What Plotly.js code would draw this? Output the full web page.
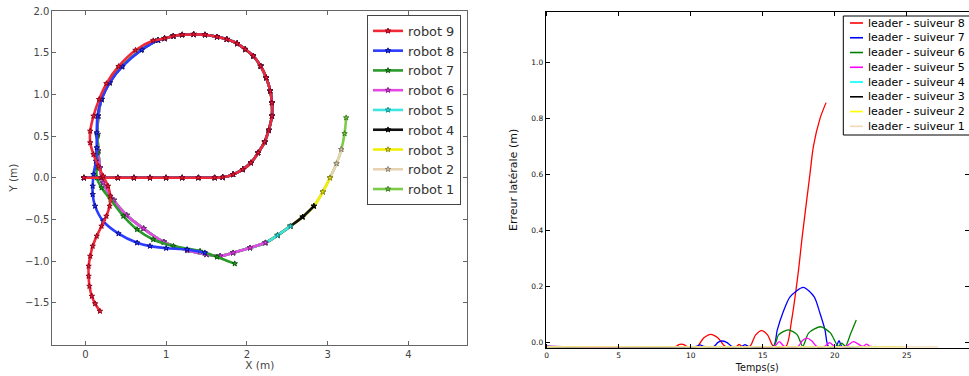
<!DOCTYPE html>
<html>
<head>
<meta charset="utf-8">
<script src="https://cdn.plot.ly/plotly-3.0.1.min.js"></script>
<style>html,body{margin:0;padding:0;background:#fff;overflow:hidden}</style>
</head>
<body>
<div id="chart" style="width:969px;height:376px"></div>
<script>
// ================= LEFT CHART : robot trajectories =================
const robotNames = ['robot 1','robot 2','robot 3','robot 4','robot 5','robot 6','robot 7','robot 8','robot 9'];

// common part: straight line along y=0 then the loop (all robots)
const loopX = [-0.02, 0.2, 0.4, 0.6, 0.8, 1.0, 1.2, 1.4, 1.6, 1.7, 1.83, 1.95, 2.05, 2.14, 2.22, 2.27, 2.31, 2.31, 2.29, 2.24, 2.17, 2.08, 1.98, 1.88, 1.75, 1.63, 1.48, 1.34, 1.2, 1.09, 0.98];
const loopY = [0, 0, 0, 0, 0, 0, 0, 0, 0, 0.005, 0.04, 0.1, 0.18, 0.3, 0.43, 0.57, 0.74, 0.9, 1.04, 1.2, 1.34, 1.46, 1.54, 1.61, 1.66, 1.69, 1.715, 1.72, 1.715, 1.70, 1.67];

// robot 9 (diverging follower)
const tail9X = [0.84, 0.62, 0.41, 0.26, 0.17, 0.10, 0.06, 0.06, 0.10, 0.16, 0.22, 0.28, 0.31, 0.30, 0.26, 0.20, 0.14, 0.09, 0.06, 0.04, 0.04, 0.05, 0.08, 0.12, 0.18];
const tail9Y = [1.645, 1.53, 1.335, 1.13, 0.94, 0.74, 0.56, 0.42, 0.28, 0.14, 0.02, -0.10, -0.22, -0.34, -0.46, -0.58, -0.70, -0.82, -0.94, -1.06, -1.18, -1.30, -1.42, -1.51, -1.60];

// robot 8
const tail8X = [0.90, 0.70, 0.46, 0.30, 0.20, 0.15, 0.14, 0.14, 0.13, 0.10, 0.09, 0.09, 0.12, 0.22, 0.41, 0.64, 0.80, 1.00, 1.26, 1.48];
const tail8Y = [1.65, 1.535, 1.335, 1.14, 0.94, 0.74, 0.54, 0.36, 0.20, 0.04, -0.10, -0.20, -0.34, -0.52, -0.67, -0.78, -0.82, -0.845, -0.86, -0.90];

// robot 7
const tail7X = [0.90, 0.69, 0.45, 0.29, 0.20, 0.15, 0.15, 0.15, 0.14, 0.14, 0.20, 0.31, 0.47, 0.64, 0.84, 1.09, 1.42, 1.63, 1.85];
const tail7Y = [1.65, 1.533, 1.335, 1.14, 0.94, 0.74, 0.50, 0.30, 0.12, 0.0, -0.12, -0.26, -0.46, -0.62, -0.74, -0.82, -0.88, -0.95, -1.03];

// leader path after the loop, followed by robots 1..6
const pathX = [0.90, 0.69, 0.45, 0.30, 0.20, 0.16, 0.15, 0.16, 0.18, 0.22, 0.35, 0.51, 0.72, 0.97, 1.26, 1.50, 1.67, 1.83, 2.04, 2.23, 2.38, 2.54, 2.69, 2.83, 2.94, 3.03, 3.11, 3.17, 3.21, 3.23];
const pathY = [1.65, 1.535, 1.335, 1.14, 0.94, 0.74, 0.52, 0.32, 0.12, -0.06, -0.27, -0.45, -0.61, -0.77, -0.87, -0.92, -0.94, -0.90, -0.84, -0.78, -0.69, -0.58, -0.47, -0.34, -0.17, 0.0, 0.17, 0.34, 0.53, 0.72];
// index in path where robots 1..6 stop
const pathEndIdx = [29, 27, 25, 23, 21, 19];

const robotLineColors   = ['#7ccc4a', '#e8d2b4', '#f2f000', '#111111', '#3fe6e0', '#e24ae2', '#2a9a2a', '#2a3cff', '#f02838'];
const robotMarkerColors = ['#3d7d22', '#8c8070', '#8a8a10', '#000000', '#129090', '#8a1a8a', '#0a5a0a', '#0a0a90', '#900018'];

// ================= RIGHT CHART : lateral error =================
const seriesNames = ['leader - suiveur 8','leader - suiveur 7','leader - suiveur 6','leader - suiveur 5',
                     'leader - suiveur 4','leader - suiveur 3','leader - suiveur 2','leader - suiveur 1'];
const seriesColors = ['#ff0000','#0000ff','#008000','#ff00ff','#00ffff','#000000','#ffff00','#f2d9b5'];

const s8T = [0, 9.0, 9.17, 9.35, 9.53, 9.7, 10.45, 10.9, 11.39, 11.9, 12.4, 13.2, 13.36, 13.55, 14.12, 14.5, 14.93, 15.35, 15.74, 16.62, 17.01, 17.47, 17.75, 18.28, 18.52, 18.98, 19.4];
const s8V = [-0.014, -0.014, -0.008, -0.006, -0.008, -0.014, -0.014, 0.016, 0.029, 0.016, -0.014, -0.014, -0.007, -0.014, -0.014, 0.026, 0.042, 0.026, -0.014, -0.014, 0.08, 0.25, 0.38, 0.60, 0.70, 0.80, 0.857];

const s7T = [0, 10.4, 10.65, 10.9, 11.62, 11.9, 12.15, 12.5, 12.85, 13.54, 13.77, 14.0, 15.74, 16.01, 16.39, 16.9, 17.82, 18.58, 18.98, 19.33, 19.56, 20.1, 20.3, 20.5, 22.0];
const s7V = [-0.014, -0.014, -0.009, -0.014, -0.014, 0.0, 0.005, 0.0, -0.014, -0.014, -0.008, -0.014, -0.014, 0.044, 0.104, 0.163, 0.197, 0.163, 0.104, 0.044, -0.014, -0.014, 0.006, -0.014, -0.014];

const s6T = [0, 15.74, 16.1, 16.78, 17.4, 17.78, 18.2, 19.03, 19.7, 20.25, 20.5, 20.75, 21.1, 21.5];
const s6V = [-0.014, -0.014, 0.027, 0.045, 0.027, -0.014, 0.034, 0.056, 0.034, -0.014, -0.003, -0.014, 0.03, 0.08];

const s5T = [0, 15.8, 16.15, 16.5, 17.47, 17.75, 18.06, 18.4, 18.75, 19.3, 19.65, 20.0, 20.8, 21.3, 21.9, 22.0, 22.2, 22.45, 22.6];
const s5V = [-0.014, -0.014, 0.003, -0.014, -0.014, 0.006, 0.015, 0.006, -0.014, -0.014, -0.001, -0.014, -0.014, 0.003, -0.014, -0.014, -0.006, -0.014, -0.014];

const s4T = [0, 23.0];   const s4V = [-0.015, -0.015];
const s3T = [0, 20.2];   const s3V = [-0.015, -0.015];
const s2T = [0, 24.75];  const s2V = [-0.015, -0.015];
const s1T = [0, 27.2];   const s1V = [-0.016, -0.016];

const seriesT = [s8T, s7T, s6T, s5T, s4T, s3T, s2T, s1T];
const seriesV = [s8V, s7V, s6V, s5V, s4V, s3V, s2V, s1V];

const xTicksLeft = [0, 1, 2, 3, 4];
const yTicksLeft = [-1.5, -1.0, -0.5, 0.0, 0.5, 1.0, 1.5, 2.0];
const xTicksRight = [0, 5, 10, 15, 20, 25];
const yTicksRight = [0.0, 0.2, 0.4, 0.6, 0.8, 1.0];

// ================= build =================
const W = 969, H = 376;
const xp = px => px / W;
const yp = py => 1 - py / H;
const FONT = 'DejaVu Sans';

const traces = [];
for (let r = 0; r < 9; r++) {
  let xs, ys;
  if (r === 8) { xs = loopX.concat(tail9X); ys = loopY.concat(tail9Y); }
  else if (r === 7) { xs = loopX.concat(tail8X); ys = loopY.concat(tail8Y); }
  else if (r === 6) { xs = loopX.concat(tail7X); ys = loopY.concat(tail7Y); }
  else {
    const e = pathEndIdx[r] + 1;
    xs = loopX.concat(pathX.slice(0, e)); ys = loopY.concat(pathY.slice(0, e));
  }
  traces.push({
    type: 'scatter', mode: 'lines+markers', name: robotNames[r],
    x: xs, y: ys, xaxis: 'x', yaxis: 'y',
    line: {color: robotLineColors[r], width: 2.6, shape: 'spline', smoothing: 0.8},
    marker: {symbol: 'star', size: 4, color: robotLineColors[r], line: {color: robotMarkerColors[r], width: 1}},
    showlegend: true, legend: 'legend'
  });
}
for (let s = 0; s < 8; s++) {
  traces.push({
    type: 'scatter', mode: 'lines', name: seriesNames[s],
    x: seriesT[s], y: seriesV[s], xaxis: 'x2', yaxis: 'y2',
    line: {color: seriesColors[s], width: 1.3, shape: 'spline', smoothing: 0.7},
    showlegend: false
  });
}

// custom compact legend for the right chart
const shapes = [{
  type: 'rect', xref: 'paper', yref: 'paper', layer: 'above',
  x0: xp(843.3), x1: xp(975), y0: yp(135), y1: yp(16),
  line: {color: '#000', width: 1}, fillcolor: '#fff'
}];
const annotations = [];
for (let s = 0; s < 8; s++) {
  const yc = 23 + s * 14.76;
  shapes.push({type: 'line', xref: 'paper', yref: 'paper', layer: 'above',
    x0: xp(850), x1: xp(863), y0: yp(yc), y1: yp(yc),
    line: {color: seriesColors[s], width: 1.6}});
  annotations.push({xref: 'paper', yref: 'paper', x: xp(865.5), y: yp(yc),
    xanchor: 'left', yanchor: 'middle', showarrow: false, text: seriesNames[s],
    font: {family: FONT, size: 11, color: '#000'}});
}

const layout = {
  width: W, height: H,
  margin: {l: 0, r: 0, t: 0, b: 0, pad: 0},
  paper_bgcolor: '#fff', plot_bgcolor: '#fff',
  font: {family: FONT},
  showlegend: true,
  legend: {
    x: xp(367), y: yp(15), xanchor: 'left', yanchor: 'top',
    traceorder: 'reversed', bgcolor: '#fff', bordercolor: '#444', borderwidth: 1,
    font: {family: FONT, size: 12.9, color: '#333'}, itemwidth: 30
  },
  xaxis: {
    domain: [xp(52.3), xp(467.3)], range: [-0.41, 4.73], anchor: 'y',
    tickvals: xTicksLeft, ticktext: xTicksLeft.map(String),
    ticks: 'inside', ticklen: 4, tickcolor: '#666', showline: true, linecolor: '#666', linewidth: 1,
    mirror: 'ticks', showgrid: false, zeroline: false,
    tickfont: {family: FONT, size: 10, color: '#444'},
    title: {text: 'X (m)', standoff: 3, font: {family: FONT, size: 10.5, color: '#444'}}
  },
  yaxis: {
    domain: [yp(344.5), yp(11)], range: [-2, 2], anchor: 'x',
    tickvals: yTicksLeft, tickformat: '.1f',
    ticks: 'inside', ticklen: 4, tickcolor: '#666', showline: true, linecolor: '#666', linewidth: 1,
    mirror: 'ticks', showgrid: false, zeroline: false,
    tickfont: {family: FONT, size: 10, color: '#444'},
    title: {text: 'Y (m)', standoff: 5, font: {family: FONT, size: 10.5, color: '#444'}}
  },
  xaxis2: {
    domain: [xp(545.7), 1], range: [-0.07, 29.33], anchor: 'y2',
    tickvals: xTicksRight, ticks: 'inside', ticklen: 4, tickcolor: '#000',
    showline: true, linecolor: '#000', linewidth: 1, mirror: 'ticks',
    showgrid: false, zeroline: false,
    tickfont: {family: FONT, size: 7.5, color: '#111'},
    title: {text: 'Temps(s)', standoff: 5, font: {family: FONT, size: 9.6, color: '#111'}}
  },
  yaxis2: {
    domain: [yp(348), yp(11.7)], range: [-0.02, 1.182], anchor: 'x2',
    tickvals: yTicksRight, tickformat: '.1f', ticks: 'inside', ticklen: 4, tickcolor: '#000',
    showline: true, linecolor: '#000', linewidth: 1, mirror: 'ticks',
    showgrid: false, zeroline: false,
    tickfont: {family: FONT, size: 7.5, color: '#111'},
    title: {text: 'Erreur latérale (m)', standoff: 11, font: {family: FONT, size: 11, color: '#111'}}
  },
  shapes: shapes,
  annotations: annotations
};

Plotly.newPlot('chart', traces, layout, {staticPlot: true, displayModeBar: false});
</script>
</body>
</html>
